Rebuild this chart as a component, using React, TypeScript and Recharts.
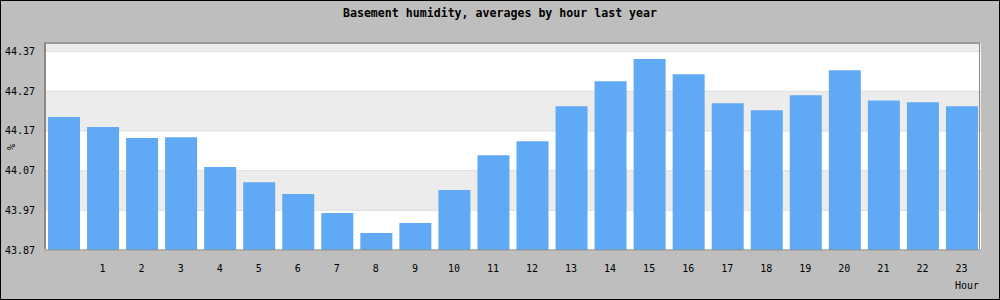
import { Bar, BarChart, CartesianGrid, XAxis, YAxis } from "recharts";

const hours = [
  "0", "1", "2", "3", "4", "5", "6", "7", "8", "9", "10", "11",
  "12", "13", "14", "15", "16", "17", "18", "19", "20", "21", "22", "23",
];
const humidity = [
  44.205, 44.18, 44.152, 44.154, 44.079, 44.041, 44.011, 43.963, 43.913, 43.938, 44.021, 44.109,
  44.144, 44.232, 44.295, 44.351, 44.313, 44.24, 44.222, 44.26, 44.323, 44.247, 44.242, 44.232,
];
const yTicks = [43.87, 43.97, 44.07, 44.17, 44.27, 44.37];
const yDomain = [43.87, 44.3916];

const data = hours.map((h, i) => ({ hour: h, value: humidity[i] }));

const mono = "'DejaVu Sans Mono', monospace";

export default function App() {
  return (
    <div style={{ position: "relative", width: 1000, height: 300, background: "#bebebe", fontFamily: mono }}>
      <style>{"body{margin:0}"}</style>
      <BarChart width={1000} height={300} data={data} margin={{ top: 43, right: 19, bottom: 20, left: 0 }}>
        <CartesianGrid
          vertical={false}
          stroke="#dedede"
          horizontalFill={["#ececec", "#ffffff"]}
          fillOpacity={1}
        />
        <XAxis
          dataKey="hour"
          interval={0}
          height={30}
          tickSize={0}
          tickMargin={15}
          axisLine={{ stroke: "#8a8a8a" }}
          tick={{ fill: "#000", fontSize: 10, fontFamily: mono }}
          tickFormatter={(v) => (v === "0" ? "" : v)}
        />
        <YAxis
          width={44}
          domain={yDomain}
          ticks={yTicks}
          allowDataOverflow
          tickSize={0}
          tickMargin={9}
          axisLine={false}
          tick={{ fill: "#000", fontSize: 10, fontFamily: mono }}
          tickFormatter={(v) => Number(v).toFixed(2)}
        />
        <Bar dataKey="value" fill="#60a9f4" barSize={32} isAnimationActive={false} />
      </BarChart>
      <div
        style={{
          position: "absolute",
          left: 44,
          top: 42,
          width: 936,
          height: 207,
          borderLeft: "2px solid #8a8a8a",
          borderTop: "2px solid #9a9a9a",
          borderRight: "1px solid #8a8a8a",
          boxSizing: "border-box",
          pointerEvents: "none",
        }}
      />
      <div
        style={{
          position: "absolute",
          top: 6,
          left: 0,
          width: 1000,
          textAlign: "center",
          fontWeight: "bold",
          fontSize: 11.6,
          color: "#000",
        }}
      >
        Basement humidity, averages by hour last year
      </div>
      <div
        style={{
          position: "absolute",
          left: 4,
          top: 140,
          width: 16,
          height: 14,
          lineHeight: "14px",
          textAlign: "center",
          fontSize: 10,
          transform: "rotate(-90deg)",
        }}
      >
        %
      </div>
      <div style={{ position: "absolute", right: 21, top: 280, fontSize: 10, lineHeight: "12px" }}>Hour</div>
      <div
        style={{
          position: "absolute",
          inset: 0,
          border: "1px solid #000",
          boxSizing: "border-box",
          pointerEvents: "none",
        }}
      />
    </div>
  );
}
